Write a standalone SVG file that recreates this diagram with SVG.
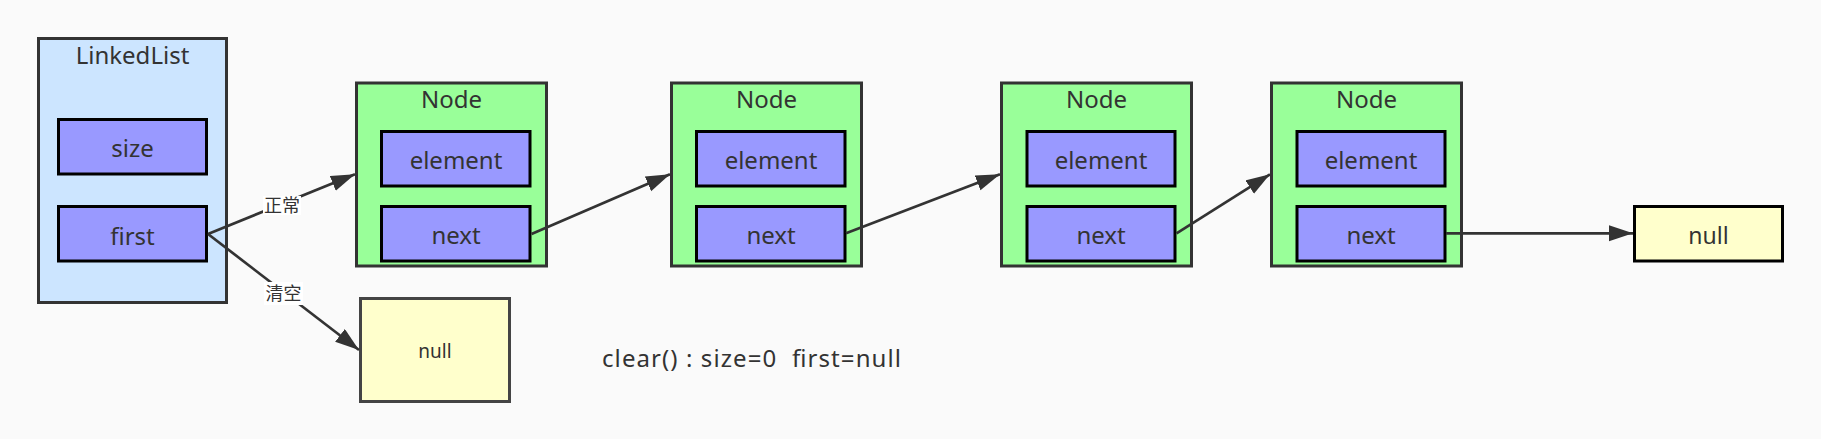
<svg xmlns="http://www.w3.org/2000/svg" width="1821" height="439" viewBox="0 0 1821 439">
<defs>
<style>
.bg{fill:#fafafa}
.list{fill:#cce5ff;stroke:#333;stroke-width:3}
.node{fill:#99ff99;stroke:#333;stroke-width:3}
.field{fill:#9999ff;stroke:#000;stroke-width:3}
.nullbig{fill:#ffffcc;stroke:#444;stroke-width:3}
.nullsm{fill:#ffffcc;stroke:#000;stroke-width:3}
.t{font-family:"Noto Sans","Liberation Sans",sans-serif;fill:#333;text-anchor:middle}
.t24{font-size:24px}
.lbl{font-family:"Noto Sans CJK SC","Noto Sans",sans-serif;font-size:18px;fill:#333;text-anchor:middle}
.lblbg{fill:#ffffff}
.edge{stroke:#333;stroke-width:2.7;fill:none;marker-end:url(#arr)}
</style>
<marker id="arr" markerUnits="userSpaceOnUse" markerWidth="26" markerHeight="18" refX="24" refY="8" orient="auto" viewBox="0 0 26 18">
<path d="M0,0 L24,8 L0,16 Z" fill="#333"/>
</marker>
</defs>
<rect class="bg" x="0" y="0" width="1821" height="439"/>

<g id="linkedlist">
<rect class="list" x="38.5" y="38.5" width="188" height="264"/>
<text class="t t24" x="132.5" y="64">LinkedList</text>
<rect class="field" x="58.5" y="119.5" width="148" height="54.5"/>
<text class="t t24" x="132.5" y="157">size</text>
<rect class="field" x="58.5" y="206.5" width="148" height="54.5"/>
<text class="t t24" x="132.5" y="245">first</text>
</g>

<g id="node1">
<rect class="node" x="356.5" y="83" width="190" height="183"/>
<text class="t t24" x="451.5" y="107.5">Node</text>
<rect class="field" x="381.5" y="131.5" width="148.5" height="54.5"/>
<text class="t t24" x="456" y="169">element</text>
<rect class="field" x="381.5" y="206.5" width="148.5" height="54.5"/>
<text class="t t24" x="456" y="244">next</text>
</g>

<g id="node2">
<rect class="node" x="671.5" y="83" width="190" height="183"/>
<text class="t t24" x="766.5" y="107.5">Node</text>
<rect class="field" x="696.5" y="131.5" width="148.5" height="54.5"/>
<text class="t t24" x="771" y="169">element</text>
<rect class="field" x="696.5" y="206.5" width="148.5" height="54.5"/>
<text class="t t24" x="771" y="244">next</text>
</g>

<g id="node3">
<rect class="node" x="1001.5" y="83" width="190" height="183"/>
<text class="t t24" x="1096.5" y="107.5">Node</text>
<rect class="field" x="1027" y="131.5" width="148" height="54.5"/>
<text class="t t24" x="1101" y="169">element</text>
<rect class="field" x="1027" y="206.5" width="148" height="54.5"/>
<text class="t t24" x="1101" y="244">next</text>
</g>

<g id="node4">
<rect class="node" x="1271.5" y="83" width="190" height="183"/>
<text class="t t24" x="1366.5" y="107.5">Node</text>
<rect class="field" x="1297" y="131.5" width="148" height="54.5"/>
<text class="t t24" x="1371" y="169">element</text>
<rect class="field" x="1297" y="206.5" width="148" height="54.5"/>
<text class="t t24" x="1371" y="244">next</text>
</g>

<g id="null-end">
<rect class="nullsm" x="1634.5" y="206.5" width="148" height="54.5"/>
<text class="t" style="font-size:23px" x="1708.5" y="244">null</text>
</g>

<g id="null-clear">
<rect class="nullbig" x="360.5" y="298.5" width="149" height="103"/>
<text class="t" style="font-size:19px" x="435" y="358">null</text>
</g>

<g id="connectors">
<line class="edge" x1="208" y1="234" x2="355" y2="174.3"/>
<line class="edge" x1="208" y1="234" x2="359" y2="350"/>
<line class="edge" x1="531.5" y1="234" x2="670" y2="174.3"/>
<line class="edge" x1="846" y1="233.3" x2="1000" y2="174.3"/>
<line class="edge" x1="1176.5" y1="233.3" x2="1270" y2="174.3"/>
<line class="edge" x1="1446" y1="233.3" x2="1633" y2="233.3"/>
<rect class="lblbg" x="263" y="196" width="38" height="19"/>
<text class="lbl" x="282" y="212">正常</text>
<rect class="lblbg" x="264" y="282" width="39" height="23"/>
<text class="lbl" x="283.5" y="300">清空</text>
</g>

<text class="t" style="font-size:24px;text-anchor:start" x="602" y="367" textLength="299" lengthAdjust="spacing" xml:space="preserve">clear() : size=0  first=null</text>
</svg>
